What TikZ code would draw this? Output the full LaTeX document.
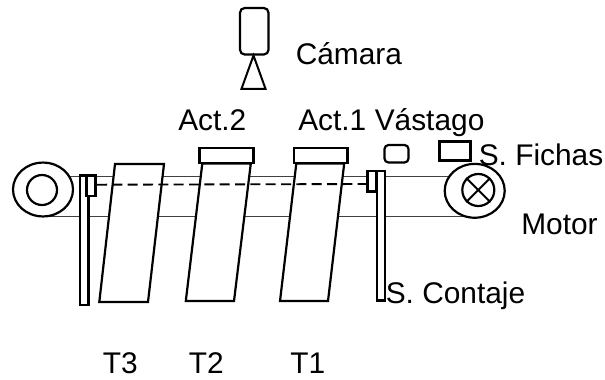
\documentclass[tikz,border=0pt]{standalone}
\usepackage{fontspec}
\setmainfont{Liberation Sans}
\usetikzlibrary{shapes.geometric}
\tikzset{
  px/.style={x=0.75pt,y=-0.75pt},
  shapeline/.style={draw=black,line width=1.65pt,fill=white,line join=miter},
  thinbelt/.style={draw=black!75,line width=1pt},
  lab/.style={anchor=base west,inner sep=0pt,font=\fontsize{22.4pt}{24pt}\selectfont},
  wheel/.style={ellipse,draw=black,line width=1.65pt,fill=white,inner sep=0pt,minimum width=45pt,minimum height=40.4pt},
  hub/.style={circle,draw=black,line width=1.65pt,fill=white,inner sep=0pt}
}
\begin{document}
\begin{tikzpicture}[px]
\useasboundingbox (0,0) rectangle (605,379);
% belts
\coordinate (bl1) at (43,176.7);
\coordinate (bl2) at (43,216.5);
\coordinate (br1) at (475,176.7);
\coordinate (br2) at (475,216.5);
\draw[thinbelt] (bl1) -- (br1);
\draw[thinbelt] (bl2) -- (br2);
% pulleys
\node[wheel] (pl) at (43,189.5) {};
\node[hub,minimum size=22.5pt] (pli) at (42,190) {};
\node[wheel] (pr) at (474.7,190.8) {};
\node[hub,minimum size=24pt] (pri) at (478.3,190) {};
\draw[line width=1.5pt] (pri.45) -- (pri.225);
\draw[line width=1.5pt] (pri.135) -- (pri.315);
% actuators
\draw[shapeline] (199.5,148) rectangle (253.5,163);
\draw[shapeline] (294,148) rectangle (347.5,163);
% trays
\draw[shapeline] (115,164) -- (164,164) -- (148,302) -- (99.3,302) -- cycle;
\draw[shapeline] (202.3,163.5) -- (250.8,163.5) -- (234,301) -- (185.8,301) -- cycle;
\draw[shapeline] (296.3,163.5) -- (344.2,163.5) -- (328,301) -- (280,301) -- cycle;
% left sensor
\draw[shapeline] (80,175.5) rectangle (88.5,305);
\draw[shapeline] (86.5,175.5) rectangle (95.5,196);
% dashed rod
\coordinate (d1) at (97,184.7);
\coordinate (d2) at (368,184);
\draw[line width=1.4pt,dash pattern=on 7.5pt off 4pt] (d1) -- (d2);
% right sensor
\draw[shapeline] (367.5,171) rectangle (376,191.5);
\draw[shapeline] (377.2,171) rectangle (385,300.5);
% vastago and chip sensor
\draw[shapeline,rounded corners=3pt] (384.5,145) rectangle (408.5,162.5);
\draw[shapeline] (439.5,141.5) rectangle (470.5,160.5);
% camera
\draw[shapeline,rounded corners=3.5pt] (240,8) rectangle (268.5,54.5);
\draw[shapeline,line width=1.5pt] (253.5,55.5) -- (265.5,88.8) -- (241.5,88.8) -- cycle;
% labels
\node[lab] (cam) at (295.5,64) {Cámara};
\node[lab] (a2) at (178,130) {Act.2};
\node[lab] (a1) at (298,130) {Act.1};
\node[lab] (vas) at (374.5,130.5) {Vástago};
\node[lab] (fic) at (478.5,165) {S. Fichas};
\node[lab] (mot) at (521,234.5) {Motor};
\node[lab] (con) at (385.5,303.5) {S. Contaje};
\node[lab] (t3) at (102.5,373.5) {T3};
\node[lab] (t2) at (188.5,373.5) {T2};
\node[lab] (t1) at (290,373.5) {T1};
\end{tikzpicture}
\end{document}
